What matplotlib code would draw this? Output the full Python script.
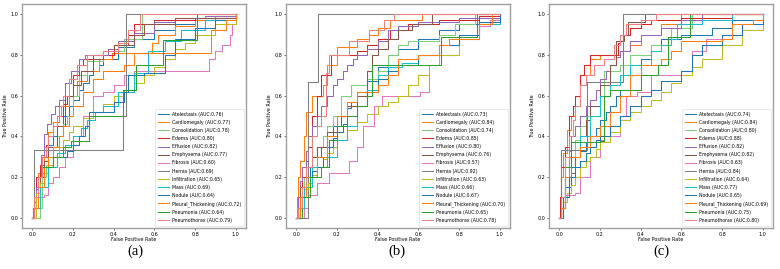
import matplotlib
matplotlib.use("Agg")
import matplotlib.pyplot as plt

classes = ["Atelectasis", "Cardiomegaly", "Consolidation", "Edema", "Effusion",
           "Emphysema", "Fibrosis", "Hernia", "Infiltration", "Mass", "Nodule",
           "Pleural_Thickening", "Pneumonia", "Pneumothorax"]
colors = ["#1f77b4", "#ff7f0e", "#7fcf7f", "#d62728", "#9467bd", "#8c564b",
          "#e377c2", "#7f7f7f", "#bcbd22", "#17becf", "#1f77b4", "#ff7f0e",
          "#2ca02c", "#f08080"]
panel_labels = ["(a)", "(b)", "(c)"]

auc_a = [0.76, 0.77, 0.78, 0.80, 0.82, 0.77, 0.60, 0.69, 0.65, 0.69, 0.64, 0.72, 0.64, 0.79]
auc_b = [0.73, 0.84, 0.74, 0.85, 0.80, 0.76, 0.57, 0.92, 0.63, 0.66, 0.67, 0.70, 0.65, 0.78]
auc_c = [0.74, 0.84, 0.80, 0.88, 0.82, 0.82, 0.63, 0.84, 0.64, 0.77, 0.65, 0.69, 0.75, 0.80]

# ROC curves: (fpr, tpr) points where tpr rises at that fpr
roc_a = [
    ([0, 0.01, 0.02, 0.03, 0.05, 0.06, 0.08, 0.10, 0.12, 0.15, 0.18, 0.20, 0.23, 0.25, 0.28, 0.30, 0.33, 0.35, 0.42, 0.50, 0.60, 0.70, 0.80, 0.90, 1.0],
     [0, 0.08, 0.14, 0.20, 0.26, 0.30, 0.36, 0.40, 0.45, 0.50, 0.55, 0.58, 0.63, 0.66, 0.70, 0.72, 0.75, 0.78, 0.84, 0.88, 0.92, 0.95, 0.97, 0.99, 1.0]),
    ([0, 0.01, 0.03, 0.06, 0.08, 0.10, 0.13, 0.18, 0.22, 0.27, 0.33, 0.39, 0.59, 0.62, 0.70, 0.80, 0.90, 1.0],
     [0, 0.10, 0.22, 0.35, 0.42, 0.47, 0.55, 0.60, 0.67, 0.72, 0.78, 0.81, 0.86, 0.90, 0.94, 0.97, 0.99, 1.0]),
    ([0, 0.04, 0.05, 0.07, 0.08, 0.10, 0.12, 0.15, 0.17, 0.20, 0.23, 0.27, 0.35, 0.45, 0.54, 1.0],
     [0, 0.05, 0.20, 0.26, 0.30, 0.35, 0.40, 0.46, 0.50, 0.60, 0.70, 0.77, 0.82, 0.88, 1.00, 1.0]),
    ([0, 0.005, 0.02, 0.04, 0.05, 0.07, 0.08, 0.10, 0.12, 0.15, 0.17, 0.20, 0.23, 0.25, 0.30, 0.40, 0.47, 0.50, 0.60, 0.80, 1.0],
     [0, 0.05, 0.20, 0.26, 0.30, 0.36, 0.40, 0.45, 0.50, 0.56, 0.60, 0.70, 0.75, 0.78, 0.80, 0.85, 0.90, 0.95, 0.97, 0.98, 1.0]),
    ([0, 0.005, 0.02, 0.03, 0.045, 0.06, 0.075, 0.09, 0.11, 0.13, 0.16, 0.19, 0.23, 0.26, 0.37, 0.42, 0.50, 0.60, 0.70, 0.85, 1.0],
     [0, 0.05, 0.15, 0.20, 0.31, 0.41, 0.46, 0.51, 0.55, 0.58, 0.66, 0.72, 0.78, 0.80, 0.83, 0.87, 0.91, 0.96, 0.98, 0.99, 1.0]),
    ([0, 0.01, 0.04, 0.06, 0.08, 0.12, 0.16, 0.20, 0.24, 0.30, 0.35, 0.40, 0.50, 0.55, 0.70, 1.0],
     [0, 0.10, 0.20, 0.28, 0.35, 0.45, 0.60, 0.65, 0.72, 0.78, 0.82, 0.85, 0.90, 0.95, 0.98, 1.0]),
    ([0, 0.02, 0.06, 0.08, 0.10, 0.13, 0.16, 0.20, 0.25, 0.30, 0.35, 0.40, 0.45, 0.50, 0.86, 0.87, 0.90, 0.93, 0.97, 0.98, 1.0],
     [0, 0.10, 0.11, 0.17, 0.20, 0.25, 0.30, 0.40, 0.50, 0.60, 0.62, 0.65, 0.70, 0.72, 0.72, 0.78, 0.82, 0.85, 0.90, 0.95, 1.0]),
    ([0, 0.008, 0.445, 0.46, 1.0],
     [0, 0.333, 0.50, 1.00, 1.0]),
    ([0, 0.02, 0.04, 0.06, 0.08, 0.10, 0.13, 0.15, 0.18, 0.20, 0.25, 0.30, 0.35, 0.40, 0.45, 0.50, 0.55, 0.60, 0.65, 0.70, 0.75, 0.80, 0.90, 1.0],
     [0, 0.12, 0.17, 0.22, 0.26, 0.30, 0.35, 0.38, 0.42, 0.45, 0.49, 0.52, 0.56, 0.60, 0.63, 0.66, 0.70, 0.74, 0.78, 0.83, 0.86, 0.90, 0.95, 1.0]),
    ([0, 0.01, 0.04, 0.08, 0.12, 0.16, 0.20, 0.24, 0.27, 0.31, 0.35, 0.42, 0.50, 0.57, 0.65, 0.73, 0.85, 1.0],
     [0, 0.05, 0.15, 0.25, 0.32, 0.36, 0.40, 0.44, 0.48, 0.52, 0.55, 0.62, 0.71, 0.82, 0.87, 0.92, 0.97, 1.0]),
    ([0, 0.01, 0.03, 0.06, 0.10, 0.17, 0.20, 0.23, 0.26, 0.28, 0.40, 0.45, 0.47, 0.55, 0.65, 0.70, 0.80, 0.90, 1.0],
     [0, 0.05, 0.15, 0.25, 0.30, 0.33, 0.36, 0.40, 0.45, 0.52, 0.57, 0.62, 0.70, 0.71, 0.80, 0.88, 0.93, 0.97, 1.0]),
    ([0, 0.01, 0.03, 0.06, 0.08, 0.10, 0.13, 0.15, 0.18, 0.20, 0.25, 0.30, 0.35, 0.45, 0.50, 0.82, 0.88, 0.95, 1.0],
     [0, 0.05, 0.15, 0.25, 0.30, 0.35, 0.40, 0.45, 0.50, 0.55, 0.62, 0.68, 0.72, 0.75, 0.81, 0.81, 0.92, 0.97, 1.0]),
    ([0, 0.01, 0.03, 0.05, 0.10, 0.15, 0.19, 0.28, 0.445, 0.51, 0.64, 0.81, 1.0],
     [0, 0.10, 0.20, 0.25, 0.30, 0.35, 0.375, 0.50, 0.63, 0.75, 0.875, 1.0, 1.0]),
    ([0, 0.01, 0.03, 0.05, 0.07, 0.08, 0.10, 0.12, 0.14, 0.15, 0.18, 0.22, 0.27, 0.35, 0.42, 0.47, 0.53, 1.0],
     [0, 0.10, 0.20, 0.30, 0.35, 0.40, 0.45, 0.50, 0.55, 0.60, 0.68, 0.75, 0.80, 0.82, 0.86, 0.92, 1.00, 1.0]),
]

roc_b = [
    ([0, 0.01, 0.03, 0.05, 0.07, 0.10, 0.12, 0.15, 0.18, 0.22, 0.25, 0.27, 0.30, 0.35, 0.40, 0.45, 0.50, 0.60, 0.70, 0.80, 0.90, 1.0],
     [0, 0.05, 0.15, 0.20, 0.25, 0.30, 0.35, 0.40, 0.45, 0.50, 0.54, 0.57, 0.62, 0.67, 0.74, 0.80, 0.83, 0.88, 0.92, 0.95, 0.98, 1.0]),
    ([0, 0.005, 0.01, 0.02, 0.04, 0.05, 0.08, 0.13, 0.15, 0.20, 0.30, 0.36, 0.40, 0.46, 0.62, 1.0],
     [0, 0.10, 0.20, 0.28, 0.40, 0.52, 0.60, 0.65, 0.75, 0.84, 0.88, 0.90, 0.93, 0.97, 1.00, 1.0]),
    ([0, 0.01, 0.04, 0.06, 0.08, 0.10, 0.13, 0.15, 0.18, 0.22, 0.27, 0.35, 0.40, 0.45, 0.50, 0.55, 0.70, 0.78, 0.88, 1.0],
     [0, 0.05, 0.20, 0.25, 0.30, 0.35, 0.40, 0.45, 0.50, 0.60, 0.65, 0.68, 0.72, 0.80, 0.85, 0.87, 0.90, 0.95, 1.00, 1.0]),
    ([0, 0.01, 0.03, 0.05, 0.06, 0.08, 0.10, 0.12, 0.17, 0.30, 0.35, 0.40, 0.46, 0.55, 0.70, 0.90, 1.0],
     [0, 0.10, 0.20, 0.28, 0.35, 0.50, 0.60, 0.70, 0.80, 0.82, 0.85, 0.88, 0.92, 0.95, 0.97, 0.99, 1.0]),
    ([0, 0.01, 0.02, 0.03, 0.05, 0.06, 0.08, 0.10, 0.12, 0.15, 0.18, 0.20, 0.23, 0.25, 0.28, 0.30, 0.35, 0.40, 0.45, 0.50, 0.60, 0.80, 1.0],
     [0, 0.10, 0.18, 0.25, 0.33, 0.40, 0.45, 0.50, 0.55, 0.60, 0.65, 0.68, 0.72, 0.75, 0.78, 0.80, 0.83, 0.87, 0.92, 0.94, 0.96, 0.98, 1.0]),
    ([0, 0.02, 0.05, 0.08, 0.10, 0.15, 0.20, 0.25, 0.30, 0.35, 0.37, 0.40, 0.45, 0.50, 0.57, 0.665, 1.0],
     [0, 0.15, 0.25, 0.30, 0.35, 0.42, 0.50, 0.55, 0.60, 0.72, 0.80, 0.83, 0.88, 0.92, 0.95, 1.00, 1.0]),
    ([0, 0.04, 0.06, 0.10, 0.16, 0.26, 0.30, 0.33, 0.38, 0.42, 0.61, 0.65, 0.70, 0.80, 0.90, 0.95, 1.0],
     [0, 0.05, 0.11, 0.17, 0.22, 0.28, 0.35, 0.45, 0.55, 0.60, 0.62, 0.75, 0.80, 0.88, 0.94, 0.97, 1.0]),
    ([0, 0.06, 0.105, 1.0],
     [0, 0.667, 1.00, 1.0]),
    ([0, 0.02, 0.04, 0.06, 0.08, 0.10, 0.13, 0.15, 0.18, 0.20, 0.25, 0.30, 0.35, 0.40, 0.45, 0.50, 0.55, 0.60, 0.65, 0.70, 0.80, 0.90, 1.0],
     [0, 0.10, 0.14, 0.17, 0.21, 0.25, 0.29, 0.32, 0.35, 0.38, 0.43, 0.47, 0.51, 0.55, 0.57, 0.60, 0.65, 0.70, 0.75, 0.80, 0.88, 0.95, 1.0]),
    ([0, 0.02, 0.04, 0.08, 0.15, 0.20, 0.25, 0.30, 0.35, 0.40, 0.45, 0.52, 0.60, 0.70, 0.80, 0.90, 1.0],
     [0, 0.05, 0.15, 0.25, 0.30, 0.38, 0.45, 0.55, 0.63, 0.70, 0.74, 0.76, 0.80, 0.85, 0.90, 0.95, 1.0]),
    ([0, 0.02, 0.05, 0.08, 0.10, 0.13, 0.15, 0.18, 0.20, 0.23, 0.25, 0.30, 0.35, 0.40, 0.45, 0.50, 0.60, 0.70, 0.80, 0.90, 1.0],
     [0, 0.10, 0.20, 0.23, 0.25, 0.30, 0.35, 0.39, 0.42, 0.46, 0.50, 0.55, 0.62, 0.68, 0.72, 0.75, 0.80, 0.85, 0.90, 0.96, 1.0]),
    ([0, 0.02, 0.05, 0.10, 0.15, 0.20, 0.25, 0.30, 0.40, 0.45, 0.50, 0.60, 0.70, 0.75, 0.90, 0.96, 1.0],
     [0, 0.10, 0.20, 0.30, 0.40, 0.50, 0.57, 0.62, 0.65, 0.70, 0.78, 0.80, 0.85, 0.88, 0.95, 1.00, 1.0]),
    ([0, 0.03, 0.07, 0.12, 0.16, 0.20, 0.25, 0.30, 0.35, 0.37, 0.71, 0.89, 1.0],
     [0, 0.10, 0.20, 0.25, 0.38, 0.45, 0.50, 0.55, 0.60, 0.75, 0.89, 1.00, 1.0]),
    ([0, 0.01, 0.03, 0.05, 0.08, 0.10, 0.12, 0.145, 0.16, 0.26, 0.36, 0.43, 0.48, 1.0],
     [0, 0.05, 0.15, 0.25, 0.40, 0.45, 0.50, 0.71, 0.80, 0.87, 0.92, 0.97, 1.00, 1.0]),
]

roc_c = [
    ([0, 0.01, 0.03, 0.06, 0.08, 0.10, 0.13, 0.15, 0.18, 0.20, 0.23, 0.25, 0.28, 0.30, 0.35, 0.40, 0.45, 0.50, 0.60, 0.75, 0.85, 1.0],
     [0, 0.05, 0.15, 0.25, 0.30, 0.33, 0.37, 0.40, 0.44, 0.48, 0.52, 0.55, 0.60, 0.63, 0.70, 0.78, 0.85, 0.88, 0.90, 0.93, 0.97, 1.0]),
    ([0, 0.005, 0.01, 0.02, 0.04, 0.06, 0.08, 0.10, 0.15, 0.20, 0.30, 0.35, 0.40, 0.50, 0.60, 1.0],
     [0, 0.10, 0.20, 0.32, 0.43, 0.50, 0.60, 0.70, 0.78, 0.80, 0.82, 0.85, 0.90, 0.95, 1.00, 1.0]),
    ([0, 0.01, 0.03, 0.06, 0.08, 0.10, 0.13, 0.15, 0.20, 0.22, 0.30, 0.35, 0.45, 0.55, 0.65, 1.0],
     [0, 0.05, 0.20, 0.30, 0.38, 0.45, 0.50, 0.55, 0.60, 0.72, 0.75, 0.80, 0.85, 0.93, 1.00, 1.0]),
    ([0, 0.005, 0.01, 0.03, 0.05, 0.07, 0.08, 0.10, 0.12, 0.15, 0.27, 0.29, 0.30, 0.35, 0.40, 0.45, 0.60, 0.85, 1.0],
     [0, 0.10, 0.25, 0.35, 0.50, 0.55, 0.60, 0.70, 0.75, 0.80, 0.80, 0.86, 0.90, 0.93, 0.95, 0.97, 0.98, 1.00, 1.0]),
    ([0, 0.01, 0.03, 0.05, 0.06, 0.08, 0.10, 0.13, 0.15, 0.18, 0.20, 0.23, 0.25, 0.28, 0.30, 0.35, 0.40, 0.50, 0.60, 0.70, 1.0],
     [0, 0.10, 0.25, 0.33, 0.40, 0.45, 0.50, 0.55, 0.58, 0.63, 0.68, 0.72, 0.75, 0.79, 0.82, 0.87, 0.90, 0.93, 0.97, 1.00, 1.0]),
    ([0, 0.01, 0.03, 0.06, 0.08, 0.10, 0.13, 0.15, 0.20, 0.25, 0.28, 0.32, 0.34, 0.42, 1.0],
     [0, 0.05, 0.20, 0.22, 0.30, 0.40, 0.48, 0.55, 0.65, 0.75, 0.87, 0.90, 0.96, 1.00, 1.0]),
    ([0, 0.02, 0.03, 0.08, 0.10, 0.15, 0.20, 0.22, 0.30, 0.33, 0.38, 0.45, 0.60, 0.65, 0.72, 0.80, 0.90, 1.0],
     [0, 0.05, 0.11, 0.12, 0.20, 0.30, 0.38, 0.40, 0.50, 0.60, 0.62, 0.70, 0.72, 0.82, 0.88, 0.90, 0.95, 1.0]),
    ([0, 0.01, 0.139, 0.314, 1.0],
     [0, 0.333, 0.667, 1.00, 1.0]),
    ([0, 0.02, 0.04, 0.06, 0.08, 0.10, 0.13, 0.15, 0.18, 0.20, 0.25, 0.30, 0.35, 0.40, 0.45, 0.50, 0.55, 0.60, 0.65, 0.70, 0.80, 0.90, 1.0],
     [0, 0.08, 0.12, 0.16, 0.20, 0.25, 0.28, 0.30, 0.34, 0.37, 0.42, 0.48, 0.52, 0.55, 0.58, 0.62, 0.66, 0.70, 0.74, 0.78, 0.85, 0.92, 1.0]),
    ([0, 0.01, 0.03, 0.06, 0.10, 0.15, 0.20, 0.25, 0.30, 0.35, 0.45, 0.50, 0.55, 0.58, 0.70, 0.85, 1.0],
     [0, 0.10, 0.20, 0.30, 0.40, 0.50, 0.60, 0.65, 0.70, 0.75, 0.82, 0.85, 0.88, 0.95, 0.97, 1.00, 1.0]),
    ([0, 0.02, 0.05, 0.08, 0.10, 0.13, 0.15, 0.18, 0.20, 0.25, 0.30, 0.35, 0.40, 0.45, 0.50, 0.60, 0.65, 0.70, 0.80, 0.90, 1.0],
     [0, 0.10, 0.20, 0.25, 0.28, 0.32, 0.35, 0.38, 0.40, 0.45, 0.50, 0.55, 0.60, 0.63, 0.67, 0.72, 0.80, 0.85, 0.90, 0.95, 1.0]),
    ([0, 0.01, 0.03, 0.05, 0.10, 0.15, 0.20, 0.25, 0.30, 0.35, 0.40, 0.50, 0.55, 0.60, 0.80, 0.85, 0.95, 1.0],
     [0, 0.05, 0.20, 0.30, 0.35, 0.40, 0.45, 0.52, 0.60, 0.70, 0.75, 0.78, 0.82, 0.87, 0.88, 0.95, 0.97, 1.0]),
    ([0, 0.01, 0.03, 0.06, 0.20, 0.22, 0.25, 0.35, 0.40, 0.485, 0.534, 0.64, 1.0],
     [0, 0.10, 0.25, 0.37, 0.375, 0.60, 0.63, 0.63, 0.70, 0.75, 0.89, 1.00, 1.0]),
    ([0, 0.01, 0.03, 0.05, 0.07, 0.08, 0.10, 0.13, 0.17, 0.22, 0.27, 0.30, 0.33, 0.40, 0.475, 1.0],
     [0, 0.10, 0.30, 0.40, 0.48, 0.55, 0.65, 0.70, 0.75, 0.78, 0.85, 0.90, 0.95, 0.97, 1.00, 1.0]),
]

plt.rcParams['font.family'] = ['DejaVu Sans']
fig = plt.figure(figsize=(7.8, 2.69), dpi=100)

lefts = [22 / 780, 286 / 780, 549 / 780]
bottom = (269 - 228) / 269
width = 224 / 780
height = 224 / 269
centers = [135 / 780, 397 / 780, 661 / 780]

for i, (rocs, aucs) in enumerate(zip([roc_a, roc_b, roc_c], [auc_a, auc_b, auc_c])):
    ax = fig.add_axes([lefts[i], bottom, width, height])
    for k, name in enumerate(classes):
        fpr, tpr = rocs[k]
        ax.plot(fpr, tpr, drawstyle='steps-post', color=colors[k], lw=0.75,
                label=f"{name} (AUC:{aucs[k]:.2f})")
    ax.set_xlim(-0.05, 1.05)
    ax.set_ylim(-0.05, 1.05)
    ax.set_xticks([0, 0.2, 0.4, 0.6, 0.8, 1.0])
    ax.set_yticks([0, 0.2, 0.4, 0.6, 0.8, 1.0])
    ax.tick_params(labelsize=3.5, length=1.5, width=0.4, pad=1.2)
    ax.set_xlabel("False Positive Rate", fontsize=3.5, labelpad=0.5)
    ax.set_ylabel("True Positive Rate", fontsize=3.5, labelpad=1.5)
    for s in ax.spines.values():
        s.set_color('#a0a0a0')
        s.set_linewidth(1.0)
    leg = ax.legend(loc='lower right', fontsize=3.3, frameon=True,
                    handlelength=2.3, labelspacing=0.68, borderpad=0.6,
                    handletextpad=0.7, fancybox=True, borderaxespad=0.5)
    leg.get_frame().set_linewidth(0.4)
    fig.text(centers[i], 1 - 251 / 269, panel_labels[i], ha='center', va='center',
             fontsize=10.5, family='Liberation Serif')

fig.savefig("out.png", dpi=100)
